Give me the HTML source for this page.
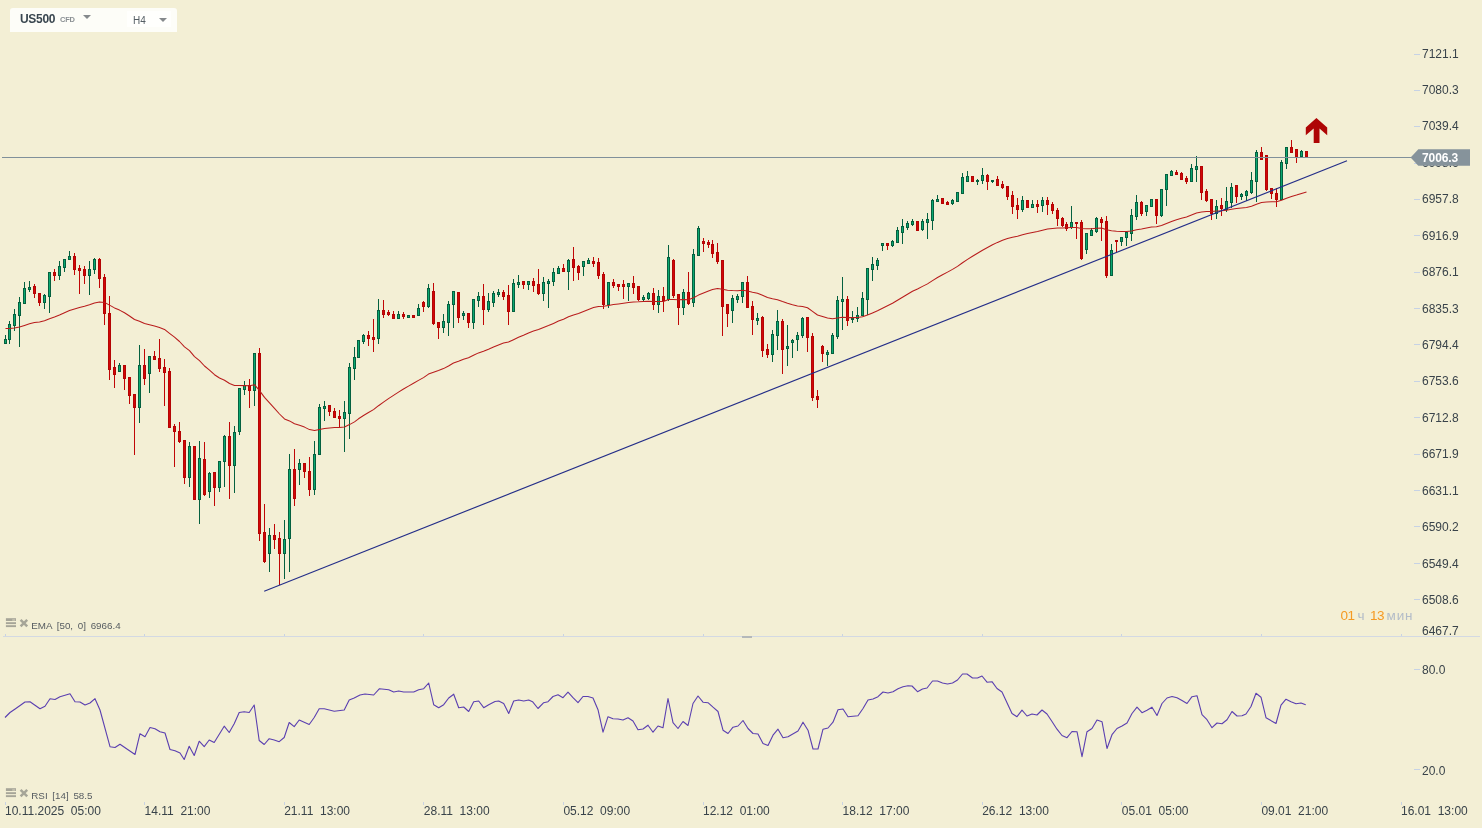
<!DOCTYPE html>
<html><head><meta charset="utf-8"><title>US500 H4</title>
<style>
html,body{margin:0;padding:0}
body{width:1482px;height:828px;overflow:hidden;background:#f3efd5;font-family:"Liberation Sans",sans-serif;position:relative}
#chart{position:absolute;left:0;top:0}
#txt{position:absolute;left:0;top:0;width:1482px;height:828px;will-change:transform}
.ax{position:absolute;left:1422px;font-size:12px;line-height:14px;color:#39434a;white-space:nowrap}
.tm{position:absolute;top:803.5px;font-size:12px;line-height:14px;color:#39434a;white-space:nowrap}
#hdr{position:absolute;left:10px;top:8px;width:167px;height:24px;background:#fdfdf8;border-radius:3px 3px 0 0}
#sym{position:absolute;left:10px;top:4px;font-size:12px;font-weight:bold;color:#39464f;line-height:14px;letter-spacing:-0.3px}
#cfd{position:absolute;left:50px;top:7px;font-size:7.5px;font-weight:bold;color:#8a8f93;line-height:9px;letter-spacing:-0.2px}
.tri{position:absolute;width:0;height:0;border-left:4px solid transparent;border-right:4px solid transparent;border-top:4px solid #85898c}
#tf{position:absolute;left:117px;top:3px;width:44px;height:16px;background:#fffffd}
#tf span{position:absolute;left:6px;top:4px;font-size:10px;line-height:12px;color:#555e64}
.lg{position:absolute;left:31.3px;font-size:9.8px;line-height:11px;color:#565c61;white-space:nowrap;word-spacing:2px}
#tagbg{position:absolute;left:1410px;top:149px;z-index:2}
#tag{position:absolute;z-index:3;left:1422px;top:150.5px;font-size:12px;line-height:14px;font-weight:bold;color:#fff;letter-spacing:-0.1px}
.cd{position:absolute;top:608px;font-size:13.5px;line-height:15px;white-space:nowrap}
.o{color:#f59a23;letter-spacing:-0.5px} .g{color:#b3bcc8;letter-spacing:0.9px}
</style></head><body>
<svg id="chart" width="1482" height="828" viewBox="0 0 1482 828">
<g shape-rendering="crispEdges">
<rect x="3" y="636" width="1477" height="1" fill="#d3d9e3"/>
<rect x="742" y="636" width="10" height="2" fill="#b4b8ba"/>
<rect x="1414" y="54" width="6" height="1" fill="#c6d2e5"/>
<rect x="1414" y="90" width="6" height="1" fill="#c6d2e5"/>
<rect x="1414" y="126" width="6" height="1" fill="#c6d2e5"/>
<rect x="1414" y="163" width="6" height="1" fill="#c6d2e5"/>
<rect x="1414" y="199" width="6" height="1" fill="#c6d2e5"/>
<rect x="1414" y="235" width="6" height="1" fill="#c6d2e5"/>
<rect x="1414" y="272" width="6" height="1" fill="#c6d2e5"/>
<rect x="1414" y="308" width="6" height="1" fill="#c6d2e5"/>
<rect x="1414" y="344" width="6" height="1" fill="#c6d2e5"/>
<rect x="1414" y="381" width="6" height="1" fill="#c6d2e5"/>
<rect x="1414" y="417" width="6" height="1" fill="#c6d2e5"/>
<rect x="1414" y="454" width="6" height="1" fill="#c6d2e5"/>
<rect x="1414" y="490" width="6" height="1" fill="#c6d2e5"/>
<rect x="1414" y="526" width="6" height="1" fill="#c6d2e5"/>
<rect x="1414" y="563" width="6" height="1" fill="#c6d2e5"/>
<rect x="1414" y="599" width="6" height="1" fill="#c6d2e5"/>
<rect x="1414" y="669" width="6" height="1" fill="#c6d2e5"/>
<rect x="1414" y="769" width="6" height="1" fill="#c6d2e5"/>
<rect x="5" y="802" width="1" height="3" fill="#c9d3e2"/>
<rect x="5" y="634" width="1" height="2" fill="#c9d3e2"/>
<rect x="144" y="802" width="1" height="3" fill="#c9d3e2"/>
<rect x="144" y="634" width="1" height="2" fill="#c9d3e2"/>
<rect x="284" y="802" width="1" height="3" fill="#c9d3e2"/>
<rect x="284" y="634" width="1" height="2" fill="#c9d3e2"/>
<rect x="423" y="802" width="1" height="3" fill="#c9d3e2"/>
<rect x="423" y="634" width="1" height="2" fill="#c9d3e2"/>
<rect x="563" y="802" width="1" height="3" fill="#c9d3e2"/>
<rect x="563" y="634" width="1" height="2" fill="#c9d3e2"/>
<rect x="703" y="802" width="1" height="3" fill="#c9d3e2"/>
<rect x="703" y="634" width="1" height="2" fill="#c9d3e2"/>
<rect x="842" y="802" width="1" height="3" fill="#c9d3e2"/>
<rect x="842" y="634" width="1" height="2" fill="#c9d3e2"/>
<rect x="982" y="802" width="1" height="3" fill="#c9d3e2"/>
<rect x="982" y="634" width="1" height="2" fill="#c9d3e2"/>
<rect x="1121" y="802" width="1" height="3" fill="#c9d3e2"/>
<rect x="1121" y="634" width="1" height="2" fill="#c9d3e2"/>
<rect x="1261" y="802" width="1" height="3" fill="#c9d3e2"/>
<rect x="1261" y="634" width="1" height="2" fill="#c9d3e2"/>
<rect x="1401" y="802" width="1" height="3" fill="#c9d3e2"/>
<rect x="1401" y="634" width="1" height="2" fill="#c9d3e2"/>
<rect x="5" y="335" width="1" height="9" fill="#04603f"/>
<rect x="4" y="339" width="3" height="5" fill="#04603f"/>
<rect x="5" y="340" width="1" height="3" fill="#0aa870"/>
<rect x="9" y="321" width="1" height="23" fill="#04603f"/>
<rect x="8" y="324" width="3" height="16" fill="#04603f"/>
<rect x="9" y="325" width="1" height="14" fill="#0aa870"/>
<rect x="14" y="309" width="1" height="22" fill="#04603f"/>
<rect x="13" y="314" width="3" height="12" fill="#04603f"/>
<rect x="14" y="315" width="1" height="10" fill="#0aa870"/>
<rect x="19" y="297" width="1" height="50" fill="#04603f"/>
<rect x="18" y="302" width="3" height="14" fill="#04603f"/>
<rect x="19" y="303" width="1" height="12" fill="#0aa870"/>
<rect x="24" y="282" width="1" height="22" fill="#04603f"/>
<rect x="23" y="288" width="3" height="16" fill="#04603f"/>
<rect x="24" y="289" width="1" height="14" fill="#0aa870"/>
<rect x="29" y="281" width="1" height="11" fill="#04603f"/>
<rect x="28" y="287" width="3" height="3" fill="#04603f"/>
<rect x="29" y="288" width="1" height="1" fill="#0aa870"/>
<rect x="34" y="284" width="1" height="14" fill="#c00606"/>
<rect x="33" y="286" width="3" height="8" fill="#b40404"/>
<rect x="34" y="287" width="1" height="6" fill="#d20606"/>
<rect x="39" y="293" width="1" height="13" fill="#c00606"/>
<rect x="38" y="293" width="3" height="10" fill="#b40404"/>
<rect x="39" y="294" width="1" height="8" fill="#d20606"/>
<rect x="44" y="294" width="1" height="15" fill="#04603f"/>
<rect x="43" y="295" width="3" height="8" fill="#04603f"/>
<rect x="44" y="296" width="1" height="6" fill="#0aa870"/>
<rect x="49" y="272" width="1" height="41" fill="#04603f"/>
<rect x="48" y="272" width="3" height="25" fill="#04603f"/>
<rect x="49" y="273" width="1" height="23" fill="#0aa870"/>
<rect x="54" y="269" width="1" height="12" fill="#c00606"/>
<rect x="53" y="272" width="3" height="4" fill="#b40404"/>
<rect x="54" y="273" width="1" height="2" fill="#d20606"/>
<rect x="59" y="261" width="1" height="19" fill="#04603f"/>
<rect x="58" y="266" width="3" height="10" fill="#04603f"/>
<rect x="59" y="267" width="1" height="8" fill="#0aa870"/>
<rect x="64" y="259" width="1" height="13" fill="#04603f"/>
<rect x="63" y="259" width="3" height="9" fill="#04603f"/>
<rect x="64" y="260" width="1" height="7" fill="#0aa870"/>
<rect x="69" y="251" width="1" height="9" fill="#04603f"/>
<rect x="68" y="256" width="3" height="4" fill="#04603f"/>
<rect x="69" y="257" width="1" height="2" fill="#0aa870"/>
<rect x="74" y="253" width="1" height="22" fill="#c00606"/>
<rect x="73" y="256" width="3" height="14" fill="#b40404"/>
<rect x="74" y="257" width="1" height="12" fill="#d20606"/>
<rect x="79" y="265" width="1" height="29" fill="#c00606"/>
<rect x="78" y="268" width="3" height="3" fill="#b40404"/>
<rect x="79" y="269" width="1" height="1" fill="#d20606"/>
<rect x="84" y="266" width="1" height="18" fill="#c00606"/>
<rect x="83" y="269" width="3" height="7" fill="#b40404"/>
<rect x="84" y="270" width="1" height="5" fill="#d20606"/>
<rect x="89" y="261" width="1" height="34" fill="#04603f"/>
<rect x="88" y="269" width="3" height="7" fill="#04603f"/>
<rect x="89" y="270" width="1" height="5" fill="#0aa870"/>
<rect x="94" y="258" width="1" height="16" fill="#04603f"/>
<rect x="93" y="259" width="3" height="11" fill="#04603f"/>
<rect x="94" y="260" width="1" height="9" fill="#0aa870"/>
<rect x="99" y="258" width="1" height="30" fill="#c00606"/>
<rect x="98" y="259" width="3" height="20" fill="#b40404"/>
<rect x="99" y="260" width="1" height="18" fill="#d20606"/>
<rect x="104" y="274" width="1" height="51" fill="#c00606"/>
<rect x="103" y="277" width="3" height="37" fill="#b40404"/>
<rect x="104" y="278" width="1" height="35" fill="#d20606"/>
<rect x="109" y="296" width="1" height="84" fill="#c00606"/>
<rect x="108" y="313" width="3" height="57" fill="#b40404"/>
<rect x="109" y="314" width="1" height="55" fill="#d20606"/>
<rect x="114" y="360" width="1" height="28" fill="#c00606"/>
<rect x="113" y="367" width="3" height="8" fill="#b40404"/>
<rect x="114" y="368" width="1" height="6" fill="#d20606"/>
<rect x="119" y="363" width="1" height="9" fill="#04603f"/>
<rect x="118" y="365" width="3" height="7" fill="#04603f"/>
<rect x="119" y="366" width="1" height="5" fill="#0aa870"/>
<rect x="124" y="365" width="1" height="25" fill="#c00606"/>
<rect x="123" y="365" width="3" height="14" fill="#b40404"/>
<rect x="124" y="366" width="1" height="12" fill="#d20606"/>
<rect x="129" y="377" width="1" height="27" fill="#c00606"/>
<rect x="128" y="377" width="3" height="19" fill="#b40404"/>
<rect x="129" y="378" width="1" height="17" fill="#d20606"/>
<rect x="134" y="394" width="1" height="61" fill="#c00606"/>
<rect x="133" y="394" width="3" height="14" fill="#b40404"/>
<rect x="134" y="395" width="1" height="12" fill="#d20606"/>
<rect x="139" y="345" width="1" height="78" fill="#04603f"/>
<rect x="138" y="365" width="3" height="43" fill="#04603f"/>
<rect x="139" y="366" width="1" height="41" fill="#0aa870"/>
<rect x="144" y="349" width="1" height="36" fill="#c00606"/>
<rect x="143" y="365" width="3" height="14" fill="#b40404"/>
<rect x="144" y="366" width="1" height="12" fill="#d20606"/>
<rect x="149" y="356" width="1" height="37" fill="#04603f"/>
<rect x="148" y="356" width="3" height="18" fill="#04603f"/>
<rect x="149" y="357" width="1" height="16" fill="#0aa870"/>
<rect x="154" y="351" width="1" height="9" fill="#c00606"/>
<rect x="153" y="356" width="3" height="4" fill="#b40404"/>
<rect x="154" y="357" width="1" height="2" fill="#d20606"/>
<rect x="159" y="339" width="1" height="33" fill="#c00606"/>
<rect x="158" y="358" width="3" height="11" fill="#b40404"/>
<rect x="159" y="359" width="1" height="9" fill="#d20606"/>
<rect x="164" y="359" width="1" height="47" fill="#c00606"/>
<rect x="163" y="367" width="3" height="6" fill="#b40404"/>
<rect x="164" y="368" width="1" height="4" fill="#d20606"/>
<rect x="169" y="368" width="1" height="60" fill="#c00606"/>
<rect x="168" y="371" width="3" height="57" fill="#b40404"/>
<rect x="169" y="372" width="1" height="55" fill="#d20606"/>
<rect x="174" y="424" width="1" height="43" fill="#c00606"/>
<rect x="173" y="426" width="3" height="6" fill="#b40404"/>
<rect x="174" y="427" width="1" height="4" fill="#d20606"/>
<rect x="179" y="422" width="1" height="21" fill="#c00606"/>
<rect x="178" y="431" width="3" height="11" fill="#b40404"/>
<rect x="179" y="432" width="1" height="9" fill="#d20606"/>
<rect x="184" y="440" width="1" height="44" fill="#c00606"/>
<rect x="183" y="440" width="3" height="38" fill="#b40404"/>
<rect x="184" y="441" width="1" height="36" fill="#d20606"/>
<rect x="189" y="442" width="1" height="45" fill="#04603f"/>
<rect x="188" y="446" width="3" height="32" fill="#04603f"/>
<rect x="189" y="447" width="1" height="30" fill="#0aa870"/>
<rect x="194" y="446" width="1" height="54" fill="#c00606"/>
<rect x="193" y="446" width="3" height="54" fill="#b40404"/>
<rect x="194" y="447" width="1" height="52" fill="#d20606"/>
<rect x="199" y="441" width="1" height="83" fill="#04603f"/>
<rect x="198" y="458" width="3" height="42" fill="#04603f"/>
<rect x="199" y="459" width="1" height="40" fill="#0aa870"/>
<rect x="204" y="442" width="1" height="54" fill="#c00606"/>
<rect x="203" y="459" width="3" height="36" fill="#b40404"/>
<rect x="204" y="460" width="1" height="34" fill="#d20606"/>
<rect x="209" y="472" width="1" height="26" fill="#04603f"/>
<rect x="208" y="473" width="3" height="19" fill="#04603f"/>
<rect x="209" y="474" width="1" height="17" fill="#0aa870"/>
<rect x="214" y="472" width="1" height="34" fill="#c00606"/>
<rect x="213" y="472" width="3" height="16" fill="#b40404"/>
<rect x="214" y="473" width="1" height="14" fill="#d20606"/>
<rect x="219" y="461" width="1" height="31" fill="#04603f"/>
<rect x="218" y="461" width="3" height="27" fill="#04603f"/>
<rect x="219" y="462" width="1" height="25" fill="#0aa870"/>
<rect x="224" y="435" width="1" height="52" fill="#04603f"/>
<rect x="223" y="436" width="3" height="26" fill="#04603f"/>
<rect x="224" y="437" width="1" height="24" fill="#0aa870"/>
<rect x="229" y="422" width="1" height="77" fill="#c00606"/>
<rect x="228" y="436" width="3" height="30" fill="#b40404"/>
<rect x="229" y="437" width="1" height="28" fill="#d20606"/>
<rect x="234" y="426" width="1" height="67" fill="#04603f"/>
<rect x="233" y="432" width="3" height="34" fill="#04603f"/>
<rect x="234" y="433" width="1" height="32" fill="#0aa870"/>
<rect x="239" y="388" width="1" height="47" fill="#04603f"/>
<rect x="238" y="388" width="3" height="44" fill="#04603f"/>
<rect x="239" y="389" width="1" height="42" fill="#0aa870"/>
<rect x="244" y="381" width="1" height="14" fill="#04603f"/>
<rect x="243" y="385" width="3" height="5" fill="#04603f"/>
<rect x="244" y="386" width="1" height="3" fill="#0aa870"/>
<rect x="249" y="379" width="1" height="29" fill="#c00606"/>
<rect x="248" y="385" width="3" height="6" fill="#b40404"/>
<rect x="249" y="386" width="1" height="4" fill="#d20606"/>
<rect x="254" y="353" width="1" height="53" fill="#04603f"/>
<rect x="253" y="353" width="3" height="38" fill="#04603f"/>
<rect x="254" y="354" width="1" height="36" fill="#0aa870"/>
<rect x="259" y="348" width="1" height="193" fill="#c00606"/>
<rect x="258" y="353" width="3" height="181" fill="#b40404"/>
<rect x="259" y="354" width="1" height="179" fill="#d20606"/>
<rect x="264" y="504" width="1" height="59" fill="#c00606"/>
<rect x="263" y="532" width="3" height="30" fill="#b40404"/>
<rect x="264" y="533" width="1" height="28" fill="#d20606"/>
<rect x="269" y="528" width="1" height="44" fill="#04603f"/>
<rect x="268" y="535" width="3" height="19" fill="#04603f"/>
<rect x="269" y="536" width="1" height="17" fill="#0aa870"/>
<rect x="274" y="524" width="1" height="25" fill="#c00606"/>
<rect x="273" y="535" width="3" height="5" fill="#b40404"/>
<rect x="274" y="536" width="1" height="3" fill="#d20606"/>
<rect x="279" y="532" width="1" height="53" fill="#c00606"/>
<rect x="278" y="538" width="3" height="16" fill="#b40404"/>
<rect x="279" y="539" width="1" height="14" fill="#d20606"/>
<rect x="284" y="520" width="1" height="59" fill="#04603f"/>
<rect x="283" y="539" width="3" height="15" fill="#04603f"/>
<rect x="284" y="540" width="1" height="13" fill="#0aa870"/>
<rect x="289" y="454" width="1" height="118" fill="#04603f"/>
<rect x="288" y="469" width="3" height="70" fill="#04603f"/>
<rect x="289" y="470" width="1" height="68" fill="#0aa870"/>
<rect x="294" y="449" width="1" height="57" fill="#c00606"/>
<rect x="293" y="469" width="3" height="30" fill="#b40404"/>
<rect x="294" y="470" width="1" height="28" fill="#d20606"/>
<rect x="299" y="459" width="1" height="26" fill="#04603f"/>
<rect x="298" y="463" width="3" height="7" fill="#04603f"/>
<rect x="299" y="464" width="1" height="5" fill="#0aa870"/>
<rect x="304" y="463" width="1" height="15" fill="#c00606"/>
<rect x="303" y="463" width="3" height="9" fill="#b40404"/>
<rect x="304" y="464" width="1" height="7" fill="#d20606"/>
<rect x="309" y="457" width="1" height="39" fill="#c00606"/>
<rect x="308" y="471" width="3" height="19" fill="#b40404"/>
<rect x="309" y="472" width="1" height="17" fill="#d20606"/>
<rect x="314" y="441" width="1" height="54" fill="#04603f"/>
<rect x="313" y="454" width="3" height="36" fill="#04603f"/>
<rect x="314" y="455" width="1" height="34" fill="#0aa870"/>
<rect x="319" y="404" width="1" height="51" fill="#04603f"/>
<rect x="318" y="407" width="3" height="48" fill="#04603f"/>
<rect x="319" y="408" width="1" height="46" fill="#0aa870"/>
<rect x="324" y="401" width="1" height="20" fill="#04603f"/>
<rect x="323" y="406" width="3" height="3" fill="#04603f"/>
<rect x="324" y="407" width="1" height="1" fill="#0aa870"/>
<rect x="329" y="405" width="1" height="11" fill="#c00606"/>
<rect x="328" y="405" width="3" height="7" fill="#b40404"/>
<rect x="329" y="406" width="1" height="5" fill="#d20606"/>
<rect x="334" y="408" width="1" height="10" fill="#c00606"/>
<rect x="333" y="411" width="3" height="7" fill="#b40404"/>
<rect x="334" y="412" width="1" height="5" fill="#d20606"/>
<rect x="339" y="410" width="1" height="18" fill="#c00606"/>
<rect x="338" y="416" width="3" height="3" fill="#b40404"/>
<rect x="339" y="417" width="1" height="1" fill="#d20606"/>
<rect x="344" y="401" width="1" height="51" fill="#04603f"/>
<rect x="343" y="412" width="3" height="7" fill="#04603f"/>
<rect x="344" y="413" width="1" height="5" fill="#0aa870"/>
<rect x="349" y="363" width="1" height="76" fill="#04603f"/>
<rect x="348" y="367" width="3" height="47" fill="#04603f"/>
<rect x="349" y="368" width="1" height="45" fill="#0aa870"/>
<rect x="354" y="347" width="1" height="33" fill="#04603f"/>
<rect x="353" y="357" width="3" height="12" fill="#04603f"/>
<rect x="354" y="358" width="1" height="10" fill="#0aa870"/>
<rect x="358" y="340" width="1" height="18" fill="#04603f"/>
<rect x="357" y="340" width="3" height="18" fill="#04603f"/>
<rect x="358" y="341" width="1" height="16" fill="#0aa870"/>
<rect x="363" y="334" width="1" height="10" fill="#04603f"/>
<rect x="362" y="335" width="3" height="7" fill="#04603f"/>
<rect x="363" y="336" width="1" height="5" fill="#0aa870"/>
<rect x="368" y="331" width="1" height="15" fill="#c00606"/>
<rect x="367" y="335" width="3" height="4" fill="#b40404"/>
<rect x="368" y="336" width="1" height="2" fill="#d20606"/>
<rect x="373" y="319" width="1" height="33" fill="#c00606"/>
<rect x="372" y="337" width="3" height="3" fill="#b40404"/>
<rect x="373" y="338" width="1" height="1" fill="#d20606"/>
<rect x="378" y="299" width="1" height="45" fill="#04603f"/>
<rect x="377" y="310" width="3" height="29" fill="#04603f"/>
<rect x="378" y="311" width="1" height="27" fill="#0aa870"/>
<rect x="383" y="300" width="1" height="18" fill="#c00606"/>
<rect x="382" y="310" width="3" height="5" fill="#b40404"/>
<rect x="383" y="311" width="1" height="3" fill="#d20606"/>
<rect x="388" y="310" width="1" height="6" fill="#c00606"/>
<rect x="387" y="312" width="3" height="3" fill="#b40404"/>
<rect x="388" y="313" width="1" height="1" fill="#d20606"/>
<rect x="393" y="311" width="1" height="8" fill="#c00606"/>
<rect x="392" y="314" width="3" height="5" fill="#b40404"/>
<rect x="393" y="315" width="1" height="3" fill="#d20606"/>
<rect x="398" y="311" width="1" height="8" fill="#04603f"/>
<rect x="397" y="314" width="3" height="5" fill="#04603f"/>
<rect x="398" y="315" width="1" height="3" fill="#0aa870"/>
<rect x="403" y="312" width="1" height="7" fill="#c00606"/>
<rect x="402" y="314" width="3" height="3" fill="#b40404"/>
<rect x="403" y="315" width="1" height="1" fill="#d20606"/>
<rect x="408" y="315" width="1" height="3" fill="#04603f"/>
<rect x="407" y="315" width="3" height="3" fill="#04603f"/>
<rect x="408" y="316" width="1" height="1" fill="#0aa870"/>
<rect x="413" y="315" width="1" height="3" fill="#c00606"/>
<rect x="412" y="315" width="3" height="3" fill="#b40404"/>
<rect x="413" y="316" width="1" height="1" fill="#d20606"/>
<rect x="418" y="304" width="1" height="12" fill="#04603f"/>
<rect x="417" y="308" width="3" height="8" fill="#04603f"/>
<rect x="418" y="309" width="1" height="6" fill="#0aa870"/>
<rect x="423" y="301" width="1" height="11" fill="#c00606"/>
<rect x="422" y="302" width="3" height="5" fill="#b40404"/>
<rect x="423" y="303" width="1" height="3" fill="#d20606"/>
<rect x="428" y="284" width="1" height="24" fill="#04603f"/>
<rect x="427" y="288" width="3" height="19" fill="#04603f"/>
<rect x="428" y="289" width="1" height="17" fill="#0aa870"/>
<rect x="433" y="283" width="1" height="42" fill="#c00606"/>
<rect x="432" y="291" width="3" height="33" fill="#b40404"/>
<rect x="433" y="292" width="1" height="31" fill="#d20606"/>
<rect x="438" y="322" width="1" height="17" fill="#c00606"/>
<rect x="437" y="322" width="3" height="6" fill="#b40404"/>
<rect x="438" y="323" width="1" height="4" fill="#d20606"/>
<rect x="443" y="314" width="1" height="19" fill="#04603f"/>
<rect x="442" y="321" width="3" height="7" fill="#04603f"/>
<rect x="443" y="322" width="1" height="5" fill="#0aa870"/>
<rect x="448" y="301" width="1" height="35" fill="#04603f"/>
<rect x="447" y="304" width="3" height="19" fill="#04603f"/>
<rect x="448" y="305" width="1" height="17" fill="#0aa870"/>
<rect x="453" y="291" width="1" height="37" fill="#04603f"/>
<rect x="452" y="291" width="3" height="14" fill="#04603f"/>
<rect x="453" y="292" width="1" height="12" fill="#0aa870"/>
<rect x="458" y="292" width="1" height="31" fill="#c00606"/>
<rect x="457" y="292" width="3" height="26" fill="#b40404"/>
<rect x="458" y="293" width="1" height="24" fill="#d20606"/>
<rect x="463" y="311" width="1" height="9" fill="#04603f"/>
<rect x="462" y="313" width="3" height="3" fill="#04603f"/>
<rect x="463" y="314" width="1" height="1" fill="#0aa870"/>
<rect x="468" y="313" width="1" height="15" fill="#c00606"/>
<rect x="467" y="313" width="3" height="10" fill="#b40404"/>
<rect x="468" y="314" width="1" height="8" fill="#d20606"/>
<rect x="473" y="299" width="1" height="30" fill="#04603f"/>
<rect x="472" y="299" width="3" height="24" fill="#04603f"/>
<rect x="473" y="300" width="1" height="22" fill="#0aa870"/>
<rect x="478" y="292" width="1" height="15" fill="#04603f"/>
<rect x="477" y="296" width="3" height="5" fill="#04603f"/>
<rect x="478" y="297" width="1" height="3" fill="#0aa870"/>
<rect x="483" y="284" width="1" height="41" fill="#c00606"/>
<rect x="482" y="296" width="3" height="14" fill="#b40404"/>
<rect x="483" y="297" width="1" height="12" fill="#d20606"/>
<rect x="488" y="293" width="1" height="19" fill="#04603f"/>
<rect x="487" y="301" width="3" height="9" fill="#04603f"/>
<rect x="488" y="302" width="1" height="7" fill="#0aa870"/>
<rect x="493" y="291" width="1" height="16" fill="#04603f"/>
<rect x="492" y="293" width="3" height="10" fill="#04603f"/>
<rect x="493" y="294" width="1" height="8" fill="#0aa870"/>
<rect x="498" y="289" width="1" height="8" fill="#04603f"/>
<rect x="497" y="292" width="3" height="3" fill="#04603f"/>
<rect x="498" y="293" width="1" height="1" fill="#0aa870"/>
<rect x="503" y="290" width="1" height="10" fill="#c00606"/>
<rect x="502" y="292" width="3" height="5" fill="#b40404"/>
<rect x="503" y="293" width="1" height="3" fill="#d20606"/>
<rect x="508" y="285" width="1" height="40" fill="#c00606"/>
<rect x="507" y="295" width="3" height="17" fill="#b40404"/>
<rect x="508" y="296" width="1" height="15" fill="#d20606"/>
<rect x="513" y="279" width="1" height="33" fill="#04603f"/>
<rect x="512" y="283" width="3" height="29" fill="#04603f"/>
<rect x="513" y="284" width="1" height="27" fill="#0aa870"/>
<rect x="518" y="275" width="1" height="13" fill="#04603f"/>
<rect x="517" y="282" width="3" height="3" fill="#04603f"/>
<rect x="518" y="283" width="1" height="1" fill="#0aa870"/>
<rect x="523" y="281" width="1" height="8" fill="#c00606"/>
<rect x="522" y="281" width="3" height="4" fill="#b40404"/>
<rect x="523" y="282" width="1" height="2" fill="#d20606"/>
<rect x="528" y="281" width="1" height="9" fill="#04603f"/>
<rect x="527" y="281" width="3" height="4" fill="#04603f"/>
<rect x="528" y="282" width="1" height="2" fill="#0aa870"/>
<rect x="533" y="278" width="1" height="14" fill="#c00606"/>
<rect x="532" y="281" width="3" height="5" fill="#b40404"/>
<rect x="533" y="282" width="1" height="3" fill="#d20606"/>
<rect x="538" y="269" width="1" height="26" fill="#c00606"/>
<rect x="537" y="284" width="3" height="10" fill="#b40404"/>
<rect x="538" y="285" width="1" height="8" fill="#d20606"/>
<rect x="543" y="277" width="1" height="24" fill="#04603f"/>
<rect x="542" y="282" width="3" height="12" fill="#04603f"/>
<rect x="543" y="283" width="1" height="10" fill="#0aa870"/>
<rect x="548" y="279" width="1" height="29" fill="#04603f"/>
<rect x="547" y="281" width="3" height="3" fill="#04603f"/>
<rect x="548" y="282" width="1" height="1" fill="#0aa870"/>
<rect x="553" y="268" width="1" height="18" fill="#04603f"/>
<rect x="552" y="272" width="3" height="10" fill="#04603f"/>
<rect x="553" y="273" width="1" height="8" fill="#0aa870"/>
<rect x="558" y="266" width="1" height="8" fill="#04603f"/>
<rect x="557" y="268" width="3" height="6" fill="#04603f"/>
<rect x="558" y="269" width="1" height="4" fill="#0aa870"/>
<rect x="563" y="264" width="1" height="8" fill="#c00606"/>
<rect x="562" y="268" width="3" height="4" fill="#b40404"/>
<rect x="563" y="269" width="1" height="2" fill="#d20606"/>
<rect x="568" y="259" width="1" height="31" fill="#04603f"/>
<rect x="567" y="260" width="3" height="12" fill="#04603f"/>
<rect x="568" y="261" width="1" height="10" fill="#0aa870"/>
<rect x="573" y="247" width="1" height="34" fill="#c00606"/>
<rect x="572" y="259" width="3" height="9" fill="#b40404"/>
<rect x="573" y="260" width="1" height="7" fill="#d20606"/>
<rect x="578" y="265" width="1" height="15" fill="#c00606"/>
<rect x="577" y="266" width="3" height="7" fill="#b40404"/>
<rect x="578" y="267" width="1" height="5" fill="#d20606"/>
<rect x="583" y="261" width="1" height="15" fill="#04603f"/>
<rect x="582" y="261" width="3" height="6" fill="#04603f"/>
<rect x="583" y="262" width="1" height="4" fill="#0aa870"/>
<rect x="588" y="258" width="1" height="6" fill="#04603f"/>
<rect x="587" y="260" width="3" height="4" fill="#04603f"/>
<rect x="588" y="261" width="1" height="2" fill="#0aa870"/>
<rect x="593" y="257" width="1" height="10" fill="#c00606"/>
<rect x="592" y="261" width="3" height="3" fill="#b40404"/>
<rect x="593" y="262" width="1" height="1" fill="#d20606"/>
<rect x="598" y="258" width="1" height="21" fill="#c00606"/>
<rect x="597" y="262" width="3" height="14" fill="#b40404"/>
<rect x="598" y="263" width="1" height="12" fill="#d20606"/>
<rect x="603" y="272" width="1" height="37" fill="#c00606"/>
<rect x="602" y="274" width="3" height="31" fill="#b40404"/>
<rect x="603" y="275" width="1" height="29" fill="#d20606"/>
<rect x="608" y="282" width="1" height="26" fill="#04603f"/>
<rect x="607" y="282" width="3" height="23" fill="#04603f"/>
<rect x="608" y="283" width="1" height="21" fill="#0aa870"/>
<rect x="613" y="279" width="1" height="9" fill="#c00606"/>
<rect x="612" y="282" width="3" height="4" fill="#b40404"/>
<rect x="613" y="283" width="1" height="2" fill="#d20606"/>
<rect x="618" y="284" width="1" height="7" fill="#c00606"/>
<rect x="617" y="284" width="3" height="3" fill="#b40404"/>
<rect x="618" y="285" width="1" height="1" fill="#d20606"/>
<rect x="623" y="280" width="1" height="19" fill="#c00606"/>
<rect x="622" y="284" width="3" height="3" fill="#b40404"/>
<rect x="623" y="285" width="1" height="1" fill="#d20606"/>
<rect x="628" y="283" width="1" height="18" fill="#04603f"/>
<rect x="627" y="283" width="3" height="4" fill="#04603f"/>
<rect x="628" y="284" width="1" height="2" fill="#0aa870"/>
<rect x="633" y="276" width="1" height="18" fill="#c00606"/>
<rect x="632" y="283" width="3" height="5" fill="#b40404"/>
<rect x="633" y="284" width="1" height="3" fill="#d20606"/>
<rect x="638" y="286" width="1" height="15" fill="#c00606"/>
<rect x="637" y="286" width="3" height="14" fill="#b40404"/>
<rect x="638" y="287" width="1" height="12" fill="#d20606"/>
<rect x="643" y="295" width="1" height="7" fill="#04603f"/>
<rect x="642" y="297" width="3" height="3" fill="#04603f"/>
<rect x="643" y="298" width="1" height="1" fill="#0aa870"/>
<rect x="648" y="292" width="1" height="8" fill="#04603f"/>
<rect x="647" y="293" width="3" height="6" fill="#04603f"/>
<rect x="648" y="294" width="1" height="4" fill="#0aa870"/>
<rect x="653" y="288" width="1" height="22" fill="#c00606"/>
<rect x="652" y="293" width="3" height="12" fill="#b40404"/>
<rect x="653" y="294" width="1" height="10" fill="#d20606"/>
<rect x="658" y="290" width="1" height="23" fill="#04603f"/>
<rect x="657" y="296" width="3" height="9" fill="#04603f"/>
<rect x="658" y="297" width="1" height="7" fill="#0aa870"/>
<rect x="663" y="287" width="1" height="25" fill="#c00606"/>
<rect x="662" y="296" width="3" height="5" fill="#b40404"/>
<rect x="663" y="297" width="1" height="3" fill="#d20606"/>
<rect x="668" y="245" width="1" height="56" fill="#04603f"/>
<rect x="667" y="257" width="3" height="43" fill="#04603f"/>
<rect x="668" y="258" width="1" height="41" fill="#0aa870"/>
<rect x="673" y="259" width="1" height="39" fill="#c00606"/>
<rect x="672" y="260" width="3" height="36" fill="#b40404"/>
<rect x="673" y="261" width="1" height="34" fill="#d20606"/>
<rect x="678" y="294" width="1" height="31" fill="#c00606"/>
<rect x="677" y="294" width="3" height="14" fill="#b40404"/>
<rect x="678" y="295" width="1" height="12" fill="#d20606"/>
<rect x="683" y="289" width="1" height="26" fill="#04603f"/>
<rect x="682" y="292" width="3" height="16" fill="#04603f"/>
<rect x="683" y="293" width="1" height="14" fill="#0aa870"/>
<rect x="688" y="272" width="1" height="33" fill="#c00606"/>
<rect x="687" y="292" width="3" height="12" fill="#b40404"/>
<rect x="688" y="293" width="1" height="10" fill="#d20606"/>
<rect x="693" y="249" width="1" height="58" fill="#04603f"/>
<rect x="692" y="254" width="3" height="49" fill="#04603f"/>
<rect x="693" y="255" width="1" height="47" fill="#0aa870"/>
<rect x="698" y="226" width="1" height="30" fill="#04603f"/>
<rect x="697" y="228" width="3" height="28" fill="#04603f"/>
<rect x="698" y="229" width="1" height="26" fill="#0aa870"/>
<rect x="703" y="238" width="1" height="14" fill="#c00606"/>
<rect x="702" y="241" width="3" height="3" fill="#b40404"/>
<rect x="703" y="242" width="1" height="1" fill="#d20606"/>
<rect x="708" y="240" width="1" height="8" fill="#c00606"/>
<rect x="707" y="242" width="3" height="3" fill="#b40404"/>
<rect x="708" y="243" width="1" height="1" fill="#d20606"/>
<rect x="712" y="240" width="1" height="18" fill="#c00606"/>
<rect x="711" y="244" width="3" height="10" fill="#b40404"/>
<rect x="712" y="245" width="1" height="8" fill="#d20606"/>
<rect x="717" y="243" width="1" height="21" fill="#c00606"/>
<rect x="716" y="252" width="3" height="10" fill="#b40404"/>
<rect x="717" y="253" width="1" height="8" fill="#d20606"/>
<rect x="722" y="260" width="1" height="76" fill="#c00606"/>
<rect x="721" y="260" width="3" height="47" fill="#b40404"/>
<rect x="722" y="261" width="1" height="45" fill="#d20606"/>
<rect x="727" y="304" width="1" height="23" fill="#c00606"/>
<rect x="726" y="304" width="3" height="10" fill="#b40404"/>
<rect x="727" y="305" width="1" height="8" fill="#d20606"/>
<rect x="732" y="295" width="1" height="28" fill="#04603f"/>
<rect x="731" y="298" width="3" height="13" fill="#04603f"/>
<rect x="732" y="299" width="1" height="11" fill="#0aa870"/>
<rect x="737" y="294" width="1" height="9" fill="#04603f"/>
<rect x="736" y="296" width="3" height="4" fill="#04603f"/>
<rect x="737" y="297" width="1" height="2" fill="#0aa870"/>
<rect x="742" y="282" width="1" height="21" fill="#04603f"/>
<rect x="741" y="282" width="3" height="15" fill="#04603f"/>
<rect x="742" y="283" width="1" height="13" fill="#0aa870"/>
<rect x="747" y="276" width="1" height="32" fill="#c00606"/>
<rect x="746" y="282" width="3" height="26" fill="#b40404"/>
<rect x="747" y="283" width="1" height="24" fill="#d20606"/>
<rect x="752" y="301" width="1" height="34" fill="#c00606"/>
<rect x="751" y="306" width="3" height="14" fill="#b40404"/>
<rect x="752" y="307" width="1" height="12" fill="#d20606"/>
<rect x="757" y="313" width="1" height="12" fill="#04603f"/>
<rect x="756" y="318" width="3" height="3" fill="#04603f"/>
<rect x="757" y="319" width="1" height="1" fill="#0aa870"/>
<rect x="762" y="316" width="1" height="41" fill="#c00606"/>
<rect x="761" y="317" width="3" height="34" fill="#b40404"/>
<rect x="762" y="318" width="1" height="32" fill="#d20606"/>
<rect x="767" y="344" width="1" height="14" fill="#c00606"/>
<rect x="766" y="349" width="3" height="6" fill="#b40404"/>
<rect x="767" y="350" width="1" height="4" fill="#d20606"/>
<rect x="772" y="330" width="1" height="32" fill="#04603f"/>
<rect x="771" y="334" width="3" height="21" fill="#04603f"/>
<rect x="772" y="335" width="1" height="19" fill="#0aa870"/>
<rect x="777" y="310" width="1" height="40" fill="#04603f"/>
<rect x="776" y="321" width="3" height="15" fill="#04603f"/>
<rect x="777" y="322" width="1" height="13" fill="#0aa870"/>
<rect x="782" y="319" width="1" height="55" fill="#c00606"/>
<rect x="781" y="321" width="3" height="29" fill="#b40404"/>
<rect x="782" y="322" width="1" height="27" fill="#d20606"/>
<rect x="787" y="325" width="1" height="41" fill="#04603f"/>
<rect x="786" y="346" width="3" height="3" fill="#04603f"/>
<rect x="787" y="347" width="1" height="1" fill="#0aa870"/>
<rect x="792" y="339" width="1" height="19" fill="#04603f"/>
<rect x="791" y="340" width="3" height="3" fill="#04603f"/>
<rect x="792" y="341" width="1" height="1" fill="#0aa870"/>
<rect x="797" y="332" width="1" height="19" fill="#04603f"/>
<rect x="796" y="335" width="3" height="5" fill="#04603f"/>
<rect x="797" y="336" width="1" height="3" fill="#0aa870"/>
<rect x="802" y="317" width="1" height="21" fill="#04603f"/>
<rect x="801" y="318" width="3" height="18" fill="#04603f"/>
<rect x="802" y="319" width="1" height="16" fill="#0aa870"/>
<rect x="807" y="317" width="1" height="35" fill="#c00606"/>
<rect x="806" y="317" width="3" height="21" fill="#b40404"/>
<rect x="807" y="318" width="1" height="19" fill="#d20606"/>
<rect x="812" y="333" width="1" height="68" fill="#c00606"/>
<rect x="811" y="336" width="3" height="62" fill="#b40404"/>
<rect x="812" y="337" width="1" height="60" fill="#d20606"/>
<rect x="817" y="390" width="1" height="18" fill="#c00606"/>
<rect x="816" y="396" width="3" height="4" fill="#b40404"/>
<rect x="817" y="397" width="1" height="2" fill="#d20606"/>
<rect x="822" y="345" width="1" height="17" fill="#c00606"/>
<rect x="821" y="346" width="3" height="8" fill="#b40404"/>
<rect x="822" y="347" width="1" height="6" fill="#d20606"/>
<rect x="827" y="350" width="1" height="16" fill="#04603f"/>
<rect x="826" y="352" width="3" height="3" fill="#04603f"/>
<rect x="827" y="353" width="1" height="1" fill="#0aa870"/>
<rect x="832" y="333" width="1" height="21" fill="#04603f"/>
<rect x="831" y="335" width="3" height="19" fill="#04603f"/>
<rect x="832" y="336" width="1" height="17" fill="#0aa870"/>
<rect x="837" y="296" width="1" height="43" fill="#04603f"/>
<rect x="836" y="300" width="3" height="37" fill="#04603f"/>
<rect x="837" y="301" width="1" height="35" fill="#0aa870"/>
<rect x="842" y="277" width="1" height="53" fill="#04603f"/>
<rect x="841" y="299" width="3" height="3" fill="#04603f"/>
<rect x="842" y="300" width="1" height="1" fill="#0aa870"/>
<rect x="847" y="296" width="1" height="30" fill="#c00606"/>
<rect x="846" y="299" width="3" height="22" fill="#b40404"/>
<rect x="847" y="300" width="1" height="20" fill="#d20606"/>
<rect x="852" y="311" width="1" height="12" fill="#04603f"/>
<rect x="851" y="318" width="3" height="2" fill="#04603f"/>
<rect x="857" y="307" width="1" height="15" fill="#04603f"/>
<rect x="856" y="315" width="3" height="4" fill="#04603f"/>
<rect x="857" y="316" width="1" height="2" fill="#0aa870"/>
<rect x="862" y="292" width="1" height="24" fill="#04603f"/>
<rect x="861" y="298" width="3" height="18" fill="#04603f"/>
<rect x="862" y="299" width="1" height="16" fill="#0aa870"/>
<rect x="867" y="268" width="1" height="47" fill="#04603f"/>
<rect x="866" y="268" width="3" height="32" fill="#04603f"/>
<rect x="867" y="269" width="1" height="30" fill="#0aa870"/>
<rect x="872" y="257" width="1" height="24" fill="#04603f"/>
<rect x="871" y="264" width="3" height="6" fill="#04603f"/>
<rect x="872" y="265" width="1" height="4" fill="#0aa870"/>
<rect x="877" y="258" width="1" height="12" fill="#04603f"/>
<rect x="876" y="260" width="3" height="6" fill="#04603f"/>
<rect x="877" y="261" width="1" height="4" fill="#0aa870"/>
<rect x="882" y="243" width="1" height="8" fill="#04603f"/>
<rect x="881" y="243" width="3" height="3" fill="#04603f"/>
<rect x="882" y="244" width="1" height="1" fill="#0aa870"/>
<rect x="887" y="243" width="1" height="7" fill="#c00606"/>
<rect x="886" y="243" width="3" height="3" fill="#b40404"/>
<rect x="887" y="244" width="1" height="1" fill="#d20606"/>
<rect x="892" y="240" width="1" height="7" fill="#04603f"/>
<rect x="891" y="241" width="3" height="5" fill="#04603f"/>
<rect x="892" y="242" width="1" height="3" fill="#0aa870"/>
<rect x="897" y="227" width="1" height="16" fill="#04603f"/>
<rect x="896" y="230" width="3" height="13" fill="#04603f"/>
<rect x="897" y="231" width="1" height="11" fill="#0aa870"/>
<rect x="902" y="219" width="1" height="25" fill="#04603f"/>
<rect x="901" y="226" width="3" height="7" fill="#04603f"/>
<rect x="902" y="227" width="1" height="5" fill="#0aa870"/>
<rect x="907" y="221" width="1" height="9" fill="#04603f"/>
<rect x="906" y="223" width="3" height="5" fill="#04603f"/>
<rect x="907" y="224" width="1" height="3" fill="#0aa870"/>
<rect x="912" y="219" width="1" height="7" fill="#04603f"/>
<rect x="911" y="221" width="3" height="4" fill="#04603f"/>
<rect x="912" y="222" width="1" height="2" fill="#0aa870"/>
<rect x="917" y="221" width="1" height="10" fill="#c00606"/>
<rect x="916" y="221" width="3" height="10" fill="#b40404"/>
<rect x="917" y="222" width="1" height="8" fill="#d20606"/>
<rect x="922" y="219" width="1" height="12" fill="#04603f"/>
<rect x="921" y="221" width="3" height="9" fill="#04603f"/>
<rect x="922" y="222" width="1" height="7" fill="#0aa870"/>
<rect x="927" y="213" width="1" height="26" fill="#04603f"/>
<rect x="926" y="219" width="3" height="4" fill="#04603f"/>
<rect x="927" y="220" width="1" height="2" fill="#0aa870"/>
<rect x="932" y="199" width="1" height="31" fill="#04603f"/>
<rect x="931" y="200" width="3" height="21" fill="#04603f"/>
<rect x="932" y="201" width="1" height="19" fill="#0aa870"/>
<rect x="937" y="195" width="1" height="7" fill="#04603f"/>
<rect x="936" y="199" width="3" height="3" fill="#04603f"/>
<rect x="937" y="200" width="1" height="1" fill="#0aa870"/>
<rect x="942" y="198" width="1" height="6" fill="#c00606"/>
<rect x="941" y="198" width="3" height="6" fill="#b40404"/>
<rect x="942" y="199" width="1" height="4" fill="#d20606"/>
<rect x="947" y="201" width="1" height="4" fill="#c00606"/>
<rect x="946" y="202" width="3" height="3" fill="#b40404"/>
<rect x="947" y="203" width="1" height="1" fill="#d20606"/>
<rect x="952" y="199" width="1" height="6" fill="#04603f"/>
<rect x="951" y="200" width="3" height="4" fill="#04603f"/>
<rect x="952" y="201" width="1" height="2" fill="#0aa870"/>
<rect x="957" y="192" width="1" height="10" fill="#04603f"/>
<rect x="956" y="192" width="3" height="10" fill="#04603f"/>
<rect x="957" y="193" width="1" height="8" fill="#0aa870"/>
<rect x="962" y="173" width="1" height="21" fill="#04603f"/>
<rect x="961" y="177" width="3" height="17" fill="#04603f"/>
<rect x="962" y="178" width="1" height="15" fill="#0aa870"/>
<rect x="967" y="171" width="1" height="11" fill="#04603f"/>
<rect x="966" y="176" width="3" height="6" fill="#04603f"/>
<rect x="967" y="177" width="1" height="4" fill="#0aa870"/>
<rect x="972" y="176" width="1" height="6" fill="#c00606"/>
<rect x="971" y="176" width="3" height="6" fill="#b40404"/>
<rect x="972" y="177" width="1" height="4" fill="#d20606"/>
<rect x="977" y="179" width="1" height="6" fill="#04603f"/>
<rect x="976" y="180" width="3" height="2" fill="#04603f"/>
<rect x="982" y="168" width="1" height="16" fill="#04603f"/>
<rect x="981" y="175" width="3" height="6" fill="#04603f"/>
<rect x="982" y="176" width="1" height="4" fill="#0aa870"/>
<rect x="987" y="174" width="1" height="16" fill="#c00606"/>
<rect x="986" y="175" width="3" height="7" fill="#b40404"/>
<rect x="987" y="176" width="1" height="5" fill="#d20606"/>
<rect x="992" y="180" width="1" height="3" fill="#04603f"/>
<rect x="991" y="180" width="3" height="2" fill="#04603f"/>
<rect x="997" y="176" width="1" height="10" fill="#c00606"/>
<rect x="996" y="179" width="3" height="7" fill="#b40404"/>
<rect x="997" y="180" width="1" height="5" fill="#d20606"/>
<rect x="1002" y="181" width="1" height="8" fill="#c00606"/>
<rect x="1001" y="184" width="3" height="4" fill="#b40404"/>
<rect x="1002" y="185" width="1" height="2" fill="#d20606"/>
<rect x="1007" y="186" width="1" height="14" fill="#c00606"/>
<rect x="1006" y="186" width="3" height="11" fill="#b40404"/>
<rect x="1007" y="187" width="1" height="9" fill="#d20606"/>
<rect x="1012" y="191" width="1" height="23" fill="#c00606"/>
<rect x="1011" y="195" width="3" height="12" fill="#b40404"/>
<rect x="1012" y="196" width="1" height="10" fill="#d20606"/>
<rect x="1017" y="198" width="1" height="21" fill="#c00606"/>
<rect x="1016" y="205" width="3" height="5" fill="#b40404"/>
<rect x="1017" y="206" width="1" height="3" fill="#d20606"/>
<rect x="1022" y="196" width="1" height="16" fill="#04603f"/>
<rect x="1021" y="200" width="3" height="10" fill="#04603f"/>
<rect x="1022" y="201" width="1" height="8" fill="#0aa870"/>
<rect x="1027" y="200" width="1" height="8" fill="#c00606"/>
<rect x="1026" y="200" width="3" height="8" fill="#b40404"/>
<rect x="1027" y="201" width="1" height="6" fill="#d20606"/>
<rect x="1032" y="200" width="1" height="8" fill="#04603f"/>
<rect x="1031" y="204" width="3" height="4" fill="#04603f"/>
<rect x="1032" y="205" width="1" height="2" fill="#0aa870"/>
<rect x="1037" y="200" width="1" height="13" fill="#c00606"/>
<rect x="1036" y="204" width="3" height="3" fill="#b40404"/>
<rect x="1037" y="205" width="1" height="1" fill="#d20606"/>
<rect x="1042" y="197" width="1" height="15" fill="#04603f"/>
<rect x="1041" y="200" width="3" height="6" fill="#04603f"/>
<rect x="1042" y="201" width="1" height="4" fill="#0aa870"/>
<rect x="1047" y="197" width="1" height="18" fill="#c00606"/>
<rect x="1046" y="200" width="3" height="5" fill="#b40404"/>
<rect x="1047" y="201" width="1" height="3" fill="#d20606"/>
<rect x="1052" y="202" width="1" height="12" fill="#c00606"/>
<rect x="1051" y="204" width="3" height="7" fill="#b40404"/>
<rect x="1052" y="205" width="1" height="5" fill="#d20606"/>
<rect x="1057" y="208" width="1" height="18" fill="#c00606"/>
<rect x="1056" y="210" width="3" height="9" fill="#b40404"/>
<rect x="1057" y="211" width="1" height="7" fill="#d20606"/>
<rect x="1062" y="217" width="1" height="10" fill="#c00606"/>
<rect x="1061" y="218" width="3" height="8" fill="#b40404"/>
<rect x="1062" y="219" width="1" height="6" fill="#d20606"/>
<rect x="1066" y="222" width="1" height="9" fill="#c00606"/>
<rect x="1065" y="224" width="3" height="5" fill="#b40404"/>
<rect x="1066" y="225" width="1" height="3" fill="#d20606"/>
<rect x="1071" y="206" width="1" height="23" fill="#04603f"/>
<rect x="1070" y="222" width="3" height="6" fill="#04603f"/>
<rect x="1071" y="223" width="1" height="4" fill="#0aa870"/>
<rect x="1076" y="222" width="1" height="17" fill="#c00606"/>
<rect x="1075" y="222" width="3" height="2" fill="#b40404"/>
<rect x="1081" y="220" width="1" height="40" fill="#c00606"/>
<rect x="1080" y="222" width="3" height="37" fill="#b40404"/>
<rect x="1081" y="223" width="1" height="35" fill="#d20606"/>
<rect x="1086" y="233" width="1" height="21" fill="#04603f"/>
<rect x="1085" y="233" width="3" height="17" fill="#04603f"/>
<rect x="1086" y="234" width="1" height="15" fill="#0aa870"/>
<rect x="1091" y="228" width="1" height="8" fill="#04603f"/>
<rect x="1090" y="230" width="3" height="6" fill="#04603f"/>
<rect x="1091" y="231" width="1" height="4" fill="#0aa870"/>
<rect x="1096" y="217" width="1" height="16" fill="#04603f"/>
<rect x="1095" y="218" width="3" height="14" fill="#04603f"/>
<rect x="1096" y="219" width="1" height="12" fill="#0aa870"/>
<rect x="1101" y="217" width="1" height="24" fill="#c00606"/>
<rect x="1100" y="219" width="3" height="4" fill="#b40404"/>
<rect x="1101" y="220" width="1" height="2" fill="#d20606"/>
<rect x="1106" y="216" width="1" height="62" fill="#c00606"/>
<rect x="1105" y="221" width="3" height="55" fill="#b40404"/>
<rect x="1106" y="222" width="1" height="53" fill="#d20606"/>
<rect x="1111" y="244" width="1" height="32" fill="#04603f"/>
<rect x="1110" y="250" width="3" height="26" fill="#04603f"/>
<rect x="1111" y="251" width="1" height="24" fill="#0aa870"/>
<rect x="1116" y="240" width="1" height="12" fill="#c00606"/>
<rect x="1115" y="240" width="3" height="2" fill="#b40404"/>
<rect x="1121" y="237" width="1" height="9" fill="#04603f"/>
<rect x="1120" y="237" width="3" height="5" fill="#04603f"/>
<rect x="1121" y="238" width="1" height="3" fill="#0aa870"/>
<rect x="1126" y="232" width="1" height="14" fill="#04603f"/>
<rect x="1125" y="232" width="3" height="6" fill="#04603f"/>
<rect x="1126" y="233" width="1" height="4" fill="#0aa870"/>
<rect x="1131" y="209" width="1" height="32" fill="#04603f"/>
<rect x="1130" y="215" width="3" height="19" fill="#04603f"/>
<rect x="1131" y="216" width="1" height="17" fill="#0aa870"/>
<rect x="1136" y="195" width="1" height="25" fill="#04603f"/>
<rect x="1135" y="202" width="3" height="15" fill="#04603f"/>
<rect x="1136" y="203" width="1" height="13" fill="#0aa870"/>
<rect x="1141" y="201" width="1" height="15" fill="#c00606"/>
<rect x="1140" y="202" width="3" height="12" fill="#b40404"/>
<rect x="1141" y="203" width="1" height="10" fill="#d20606"/>
<rect x="1146" y="205" width="1" height="11" fill="#04603f"/>
<rect x="1145" y="205" width="3" height="7" fill="#04603f"/>
<rect x="1146" y="206" width="1" height="5" fill="#0aa870"/>
<rect x="1151" y="199" width="1" height="8" fill="#04603f"/>
<rect x="1150" y="199" width="3" height="8" fill="#04603f"/>
<rect x="1151" y="200" width="1" height="6" fill="#0aa870"/>
<rect x="1156" y="199" width="1" height="25" fill="#c00606"/>
<rect x="1155" y="199" width="3" height="17" fill="#b40404"/>
<rect x="1156" y="200" width="1" height="15" fill="#d20606"/>
<rect x="1161" y="189" width="1" height="28" fill="#04603f"/>
<rect x="1160" y="189" width="3" height="27" fill="#04603f"/>
<rect x="1161" y="190" width="1" height="25" fill="#0aa870"/>
<rect x="1166" y="174" width="1" height="32" fill="#04603f"/>
<rect x="1165" y="174" width="3" height="16" fill="#04603f"/>
<rect x="1166" y="175" width="1" height="14" fill="#0aa870"/>
<rect x="1171" y="170" width="1" height="6" fill="#04603f"/>
<rect x="1170" y="171" width="3" height="5" fill="#04603f"/>
<rect x="1171" y="172" width="1" height="3" fill="#0aa870"/>
<rect x="1176" y="170" width="1" height="5" fill="#c00606"/>
<rect x="1175" y="172" width="3" height="3" fill="#b40404"/>
<rect x="1176" y="173" width="1" height="1" fill="#d20606"/>
<rect x="1181" y="172" width="1" height="8" fill="#c00606"/>
<rect x="1180" y="173" width="3" height="7" fill="#b40404"/>
<rect x="1181" y="174" width="1" height="5" fill="#d20606"/>
<rect x="1186" y="176" width="1" height="8" fill="#c00606"/>
<rect x="1185" y="178" width="3" height="4" fill="#b40404"/>
<rect x="1186" y="179" width="1" height="2" fill="#d20606"/>
<rect x="1191" y="164" width="1" height="18" fill="#04603f"/>
<rect x="1190" y="168" width="3" height="14" fill="#04603f"/>
<rect x="1191" y="169" width="1" height="12" fill="#0aa870"/>
<rect x="1196" y="156" width="1" height="26" fill="#04603f"/>
<rect x="1195" y="166" width="3" height="4" fill="#04603f"/>
<rect x="1196" y="167" width="1" height="2" fill="#0aa870"/>
<rect x="1201" y="166" width="1" height="34" fill="#c00606"/>
<rect x="1200" y="166" width="3" height="27" fill="#b40404"/>
<rect x="1201" y="167" width="1" height="25" fill="#d20606"/>
<rect x="1206" y="189" width="1" height="13" fill="#c00606"/>
<rect x="1205" y="191" width="3" height="10" fill="#b40404"/>
<rect x="1206" y="192" width="1" height="8" fill="#d20606"/>
<rect x="1211" y="199" width="1" height="21" fill="#c00606"/>
<rect x="1210" y="199" width="3" height="15" fill="#b40404"/>
<rect x="1211" y="200" width="1" height="13" fill="#d20606"/>
<rect x="1216" y="200" width="1" height="19" fill="#04603f"/>
<rect x="1215" y="206" width="3" height="8" fill="#04603f"/>
<rect x="1216" y="207" width="1" height="6" fill="#0aa870"/>
<rect x="1221" y="198" width="1" height="18" fill="#c00606"/>
<rect x="1220" y="205" width="3" height="4" fill="#b40404"/>
<rect x="1221" y="206" width="1" height="2" fill="#d20606"/>
<rect x="1226" y="187" width="1" height="25" fill="#04603f"/>
<rect x="1225" y="201" width="3" height="9" fill="#04603f"/>
<rect x="1226" y="202" width="1" height="7" fill="#0aa870"/>
<rect x="1231" y="183" width="1" height="25" fill="#04603f"/>
<rect x="1230" y="187" width="3" height="16" fill="#04603f"/>
<rect x="1231" y="188" width="1" height="14" fill="#0aa870"/>
<rect x="1236" y="185" width="1" height="18" fill="#c00606"/>
<rect x="1235" y="185" width="3" height="12" fill="#b40404"/>
<rect x="1236" y="186" width="1" height="10" fill="#d20606"/>
<rect x="1241" y="193" width="1" height="7" fill="#04603f"/>
<rect x="1240" y="194" width="3" height="3" fill="#04603f"/>
<rect x="1241" y="195" width="1" height="1" fill="#0aa870"/>
<rect x="1246" y="190" width="1" height="11" fill="#04603f"/>
<rect x="1245" y="191" width="3" height="5" fill="#04603f"/>
<rect x="1246" y="192" width="1" height="3" fill="#0aa870"/>
<rect x="1251" y="172" width="1" height="22" fill="#04603f"/>
<rect x="1250" y="180" width="3" height="13" fill="#04603f"/>
<rect x="1251" y="181" width="1" height="11" fill="#0aa870"/>
<rect x="1256" y="150" width="1" height="52" fill="#04603f"/>
<rect x="1255" y="152" width="3" height="30" fill="#04603f"/>
<rect x="1256" y="153" width="1" height="28" fill="#0aa870"/>
<rect x="1261" y="147" width="1" height="13" fill="#c00606"/>
<rect x="1260" y="152" width="3" height="8" fill="#b40404"/>
<rect x="1261" y="153" width="1" height="6" fill="#d20606"/>
<rect x="1266" y="155" width="1" height="36" fill="#c00606"/>
<rect x="1265" y="155" width="3" height="35" fill="#b40404"/>
<rect x="1266" y="156" width="1" height="33" fill="#d20606"/>
<rect x="1271" y="188" width="1" height="11" fill="#c00606"/>
<rect x="1270" y="188" width="3" height="6" fill="#b40404"/>
<rect x="1271" y="189" width="1" height="4" fill="#d20606"/>
<rect x="1276" y="188" width="1" height="19" fill="#c00606"/>
<rect x="1275" y="193" width="3" height="7" fill="#b40404"/>
<rect x="1276" y="194" width="1" height="5" fill="#d20606"/>
<rect x="1281" y="160" width="1" height="40" fill="#04603f"/>
<rect x="1280" y="162" width="3" height="38" fill="#04603f"/>
<rect x="1281" y="163" width="1" height="36" fill="#0aa870"/>
<rect x="1286" y="147" width="1" height="22" fill="#04603f"/>
<rect x="1285" y="147" width="3" height="17" fill="#04603f"/>
<rect x="1286" y="148" width="1" height="15" fill="#0aa870"/>
<rect x="1291" y="140" width="1" height="13" fill="#c00606"/>
<rect x="1290" y="147" width="3" height="6" fill="#b40404"/>
<rect x="1291" y="148" width="1" height="4" fill="#d20606"/>
<rect x="1296" y="149" width="1" height="14" fill="#c00606"/>
<rect x="1295" y="149" width="3" height="8" fill="#b40404"/>
<rect x="1296" y="150" width="1" height="6" fill="#d20606"/>
<rect x="1301" y="150" width="1" height="7" fill="#04603f"/>
<rect x="1300" y="151" width="3" height="6" fill="#04603f"/>
<rect x="1301" y="152" width="1" height="4" fill="#0aa870"/>
<rect x="1306" y="151" width="1" height="6" fill="#c00606"/>
<rect x="1305" y="151" width="3" height="6" fill="#b40404"/>
<rect x="1306" y="152" width="1" height="4" fill="#d20606"/>
</g>
<polyline points="5.5,328.6 9.5,328.5 14.5,328.0 19.5,327.0 24.5,325.4 29.5,323.8 34.5,322.6 39.5,321.9 44.5,320.8 49.5,318.8 54.5,317.1 59.5,315.0 64.5,312.7 69.5,310.5 74.5,308.9 79.5,307.4 84.5,306.3 89.5,304.8 94.5,302.9 99.5,301.9 104.5,302.4 109.5,305.1 114.5,307.9 119.5,310.1 124.5,312.8 129.5,316.0 134.5,319.5 139.5,321.3 144.5,323.6 149.5,324.8 154.5,326.0 159.5,327.6 164.5,329.4 169.5,333.3 174.5,337.2 179.5,341.5 184.5,346.8 189.5,350.7 194.5,356.6 199.5,360.7 204.5,366.0 209.5,370.2 214.5,374.7 219.5,378.0 224.5,380.2 229.5,383.5 234.5,385.5 239.5,385.6 244.5,385.6 249.5,385.8 254.5,384.7 259.5,390.6 264.5,397.4 269.5,402.9 274.5,408.4 279.5,414.0 284.5,418.9 289.5,420.9 294.5,423.8 299.5,425.3 304.5,427.1 309.5,429.6 314.5,430.5 319.5,429.6 324.5,428.6 329.5,428.0 334.5,427.6 339.5,427.4 344.5,426.9 349.5,424.6 354.5,421.9 358.5,418.8 363.5,415.5 368.5,412.5 373.5,409.6 378.5,405.7 383.5,402.1 388.5,398.6 393.5,395.4 398.5,392.1 403.5,389.0 408.5,386.1 413.5,383.3 418.5,380.4 423.5,377.6 428.5,374.1 433.5,372.2 438.5,370.5 443.5,368.6 448.5,366.0 453.5,363.0 458.5,361.2 463.5,359.2 468.5,357.7 473.5,355.3 478.5,352.9 483.5,351.3 488.5,349.3 493.5,347.1 498.5,345.0 503.5,343.1 508.5,342.0 513.5,339.7 518.5,337.3 523.5,335.2 528.5,332.9 533.5,331.0 538.5,329.5 543.5,327.5 548.5,325.6 553.5,323.4 558.5,321.1 563.5,319.2 568.5,316.8 573.5,314.9 578.5,313.4 583.5,311.4 588.5,309.4 593.5,307.6 598.5,306.4 603.5,306.3 608.5,305.4 613.5,304.6 618.5,303.9 623.5,303.2 628.5,302.5 633.5,301.9 638.5,301.8 643.5,301.5 648.5,301.3 653.5,301.5 658.5,301.4 663.5,301.4 668.5,299.6 673.5,299.4 678.5,299.7 683.5,299.5 688.5,299.7 693.5,297.8 698.5,295.1 703.5,292.9 708.5,290.9 712.5,289.5 717.5,288.5 722.5,289.3 727.5,290.3 732.5,290.6 737.5,290.7 742.5,290.3 747.5,291.0 752.5,292.2 757.5,293.2 762.5,295.3 767.5,297.5 772.5,298.8 777.5,299.7 782.5,301.6 787.5,303.3 792.5,304.8 797.5,306.0 802.5,306.5 807.5,307.8 812.5,311.4 817.5,315.0 822.5,316.6 827.5,318.1 832.5,318.7 837.5,318.0 842.5,317.3 847.5,317.6 852.5,317.6 857.5,317.5 862.5,316.8 867.5,314.9 872.5,312.9 877.5,310.8 882.5,308.2 887.5,305.7 892.5,303.2 897.5,300.2 902.5,297.2 907.5,294.2 912.5,291.3 917.5,289.0 922.5,286.4 927.5,283.9 932.5,280.6 937.5,277.5 942.5,274.7 947.5,272.1 952.5,269.4 957.5,266.4 962.5,262.8 967.5,259.4 972.5,256.3 977.5,253.3 982.5,250.3 987.5,247.5 992.5,244.8 997.5,242.4 1002.5,240.3 1007.5,238.6 1012.5,237.3 1017.5,236.2 1022.5,234.7 1027.5,233.6 1032.5,232.4 1037.5,231.4 1042.5,230.2 1047.5,229.1 1052.5,228.4 1057.5,228.0 1062.5,227.9 1066.5,227.8 1071.5,227.6 1076.5,227.4 1081.5,228.6 1086.5,228.7 1091.5,228.7 1096.5,228.2 1101.5,227.9 1106.5,229.8 1111.5,230.7 1116.5,231.2 1121.5,231.5 1126.5,231.5 1131.5,231.0 1136.5,229.8 1141.5,229.1 1146.5,228.1 1151.5,227.1 1156.5,226.8 1161.5,225.4 1166.5,223.4 1171.5,221.4 1176.5,219.7 1181.5,218.2 1186.5,216.9 1191.5,214.9 1196.5,212.9 1201.5,212.0 1206.5,211.4 1211.5,211.4 1216.5,211.1 1221.5,210.8 1226.5,210.3 1231.5,209.2 1236.5,208.6 1241.5,208.0 1246.5,207.4 1251.5,206.3 1256.5,204.2 1261.5,202.4 1266.5,202.0 1271.5,201.8 1276.5,201.8 1281.5,200.3 1286.5,198.3 1291.5,196.6 1296.5,195.1 1301.5,193.4 1306.5,192.0" fill="none" stroke="#b81c1c" stroke-width="1.05" stroke-linejoin="round"/>
<line x1="264.2" y1="591.3" x2="1347" y2="160.8" stroke="#242e88" stroke-width="1.15"/>
<polyline points="5.0,717.5 10.0,712.5 15.5,708.7 25.0,702.0 30.0,701.7 40.0,708.7 45.0,706.2 50.0,698.7 55.0,699.5 60.0,696.7 70.0,693.7 75.0,701.7 80.0,702.0 85.0,705.0 90.0,703.0 95.0,698.7 100.0,710.0 110.0,746.7 115.0,747.5 120.0,744.2 135.0,754.5 140.0,733.7 145.0,736.7 150.0,727.5 155.0,728.7 160.0,731.7 165.0,733.0 170.0,749.5 175.0,750.7 180.0,753.0 184.2,759.5 189.2,746.2 194.2,755.5 199.2,741.2 204.2,746.7 209.2,740.0 214.2,742.5 224.2,726.2 229.2,732.5 234.2,723.7 239.2,712.5 244.2,711.7 249.2,712.5 254.2,705.0 259.2,740.5 264.2,744.5 269.2,738.7 274.2,740.0 279.2,741.7 284.2,737.5 289.2,722.5 294.2,726.7 299.2,720.0 309.2,724.5 314.2,717.5 319.2,708.7 324.2,708.7 334.2,711.2 344.2,710.0 349.2,700.0 354.2,698.0 360.0,695.0 365.0,694.0 373.7,695.0 379.5,688.7 388.7,689.7 393.7,692.0 398.7,691.0 403.7,692.0 413.7,692.0 418.7,689.7 423.7,688.7 428.7,683.0 433.7,704.7 438.7,707.7 443.7,704.7 448.7,698.0 453.7,694.2 458.7,707.7 463.7,707.0 468.7,711.5 473.7,701.7 478.7,701.0 483.7,707.7 488.7,704.7 495.0,701.5 498.7,701.0 503.7,703.5 508.7,713.5 513.7,701.0 518.7,700.0 523.7,701.0 528.7,700.0 532.5,701.7 538.0,708.5 543.7,702.7 548.0,701.7 553.0,696.5 558.0,694.7 563.0,697.7 568.0,692.2 573.0,697.7 578.0,702.7 583.0,696.5 588.0,696.5 593.0,698.0 598.0,709.7 603.0,732.2 608.0,716.7 613.0,718.7 618.0,719.0 623.0,720.0 628.0,717.7 633.0,721.0 638.0,729.7 643.0,729.0 648.0,725.2 653.0,732.2 658.0,726.0 663.0,727.7 668.0,698.5 673.0,722.7 678.0,728.5 683.0,721.5 688.0,725.5 693.0,703.5 698.0,696.0 703.0,702.2 708.0,702.7 713.0,707.2 718.0,711.5 723.0,730.2 728.0,733.5 733.0,727.2 738.0,726.0 743.0,720.5 748.0,728.5 753.0,733.5 758.0,734.0 763.0,743.5 768.0,745.5 773.0,735.2 778.0,729.2 783.0,737.7 788.0,736.7 798.0,731.0 803.0,722.2 808.0,730.2 813.0,749.0 818.0,749.0 823.0,729.2 828.0,728.0 833.0,722.2 838.0,709.7 843.0,709.0 848.0,716.7 858.0,715.7 863.0,708.5 868.0,700.0 873.0,699.0 878.0,696.7 883.0,692.0 888.0,693.0 893.0,691.7 898.0,688.7 903.0,686.7 908.0,685.7 912.0,686.0 917.5,691.7 922.5,689.0 927.0,688.0 932.5,681.0 937.5,681.0 942.5,683.0 947.5,684.0 952.5,683.0 957.5,680.0 962.5,674.0 967.0,674.0 972.5,678.0 977.5,678.0 982.0,676.0 987.0,682.2 992.0,681.7 997.0,688.5 1002.0,692.0 1007.0,702.7 1012.0,713.5 1017.0,716.7 1022.0,710.2 1027.0,716.0 1032.0,714.0 1037.0,715.0 1042.0,710.0 1047.0,714.0 1052.0,721.5 1057.0,729.2 1062.0,735.5 1067.0,737.7 1072.0,731.5 1077.0,731.7 1082.0,756.7 1087.0,731.7 1092.0,728.5 1097.0,720.0 1102.0,721.7 1107.0,748.5 1112.0,734.7 1117.0,728.5 1122.0,726.0 1127.0,723.0 1132.0,713.5 1137.0,707.2 1142.0,712.7 1147.0,710.2 1152.0,707.2 1157.0,715.5 1162.0,703.5 1167.0,698.0 1172.0,696.5 1177.0,697.7 1182.0,700.5 1187.0,703.5 1192.0,696.7 1197.0,695.7 1202.0,714.7 1207.0,719.7 1212.0,727.7 1217.0,723.0 1222.0,723.7 1227.0,719.7 1232.0,711.5 1237.0,716.0 1242.0,715.7 1246.0,714.0 1251.0,706.5 1256.0,693.2 1261.0,697.2 1266.0,717.7 1276.0,723.5 1281.0,705.2 1286.0,699.2 1291.0,701.7 1296.0,703.7 1301.0,703.0 1305.7,704.7" fill="none" stroke="#5a3fb0" stroke-width="1.1" stroke-linejoin="round"/>
<rect x="2" y="157" width="1410" height="1" fill="#80909a" shape-rendering="crispEdges"/>
<polygon points="1316.4,118 1327.2,127.6 1327.2,135.3 1319.5,128.4 1319.5,143 1313.7,143 1313.7,128.4 1305.8,135.3 1305.8,127.6" fill="#ae0505"/>
<g fill="#a6a598">
<rect x="5.9" y="618.2" width="10.1" height="2.8"/><rect x="5.9" y="622.2" width="10.1" height="1.9"/><rect x="5.9" y="625.2" width="10.1" height="1.9"/><rect x="12.2" y="619.5" width="3" height="1" fill="#d9d6bf"/>
<rect x="5.9" y="788.2" width="10.1" height="2.8"/><rect x="5.9" y="792.2" width="10.1" height="1.9"/><rect x="5.9" y="795.2" width="10.1" height="1.9"/><rect x="12.2" y="789.5" width="3" height="1" fill="#d9d6bf"/>
</g>
<g stroke="#a6a598" stroke-width="2.5" stroke-linecap="butt">
<path d="M20.6 619.8 L27.2 626.3 M27.2 619.8 L20.6 626.3"/>
<path d="M20.6 789.8 L27.2 796.3 M27.2 789.8 L20.6 796.3"/>
</g>
</svg>
<div id="txt">
<div id="hdr"><div id="sym">US500</div><div id="cfd">CFD</div><div class="tri" style="left:73px;top:6.8px"></div>
<div id="tf"><span>H4</span><div class="tri" style="left:32px;top:6.5px"></div></div></div>
<div class="ax" style="top:46.6px">7121.1</div>
<div class="ax" style="top:83.0px">7080.3</div>
<div class="ax" style="top:119.4px">7039.4</div>
<div class="ax" style="top:155.9px">6998.6</div>
<div class="ax" style="top:192.3px">6957.8</div>
<div class="ax" style="top:228.7px">6916.9</div>
<div class="ax" style="top:265.1px">6876.1</div>
<div class="ax" style="top:301.5px">6835.3</div>
<div class="ax" style="top:338.0px">6794.4</div>
<div class="ax" style="top:374.4px">6753.6</div>
<div class="ax" style="top:410.8px">6712.8</div>
<div class="ax" style="top:447.2px">6671.9</div>
<div class="ax" style="top:483.6px">6631.1</div>
<div class="ax" style="top:520.1px">6590.2</div>
<div class="ax" style="top:556.5px">6549.4</div>
<div class="ax" style="top:592.9px">6508.6</div>
<div class="ax" style="top:624.2px">6467.7</div>
<div class="ax" style="top:663.0px">80.0</div>
<div class="ax" style="top:763.9px">20.0</div>
<div class="tm" style="left:5.0px">10.11.2025&nbsp; 05:00</div>
<div class="tm" style="left:144.6px">14.11&nbsp; 21:00</div>
<div class="tm" style="left:284.2px">21.11&nbsp; 13:00</div>
<div class="tm" style="left:423.8px">28.11&nbsp; 13:00</div>
<div class="tm" style="left:563.4px">05.12&nbsp; 09:00</div>
<div class="tm" style="left:703.0px">12.12&nbsp; 01:00</div>
<div class="tm" style="left:842.6px">18.12&nbsp; 17:00</div>
<div class="tm" style="left:982.2px">26.12&nbsp; 13:00</div>
<div class="tm" style="left:1121.8px">05.01&nbsp; 05:00</div>
<div class="tm" style="left:1261.4px">09.01&nbsp; 21:00</div>
<div class="tm" style="left:1401.0px">16.01&nbsp; 13:00</div>
<svg id="tagbg" width="62" height="18" viewBox="1410 149 62 18"><polygon points="1410.6,157.5 1418.3,149.2 1470,149.2 1470,165.8 1418.3,165.8" fill="#86939b"/></svg>
<div id="tag">7006.3</div>
<div class="lg" style="top:620px">EMA [50, 0] 6966.4</div>
<div class="lg" style="top:790px">RSI [14] 58.5</div>
<div class="cd o" style="left:1340.5px">01</div><div class="cd g" style="left:1357.5px">ч</div><div class="cd o" style="left:1370px">13</div><div class="cd g" style="left:1386.5px">мин</div>
</div>
</body></html>
